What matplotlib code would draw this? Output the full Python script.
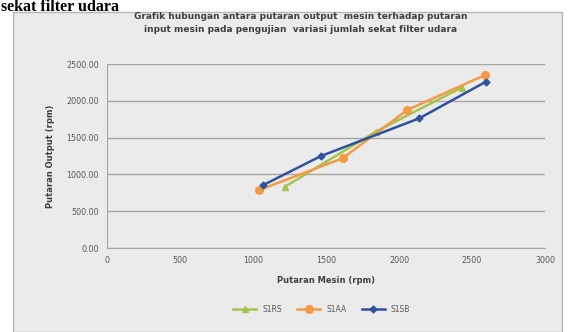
import matplotlib
matplotlib.use("Agg")
import matplotlib.pyplot as plt
from matplotlib.patches import Rectangle

# putaran mesin (input) vs putaran output, per variasi sekat
series_names = ["S1RS", "S1AA", "S1SB"]
x_s1rs = [1219, 1840, 2430]
y_s1rs = [833, 1580, 2180]
x_s1aa = [1043, 1614, 2057, 2589]
y_s1aa = [788, 1219, 1875, 2350]
x_s1sb = [1071, 1466, 2139, 2596]
y_s1sb = [856, 1250, 1762, 2260]

x_ticks = [0, 500, 1000, 1500, 2000, 2500, 3000]
y_ticks = [0, 500, 1000, 1500, 2000, 2500]

colors = ["#A5C44F", "#F39A45", "#2F529E"]
markers = ["^", "o", "D"]
msizes = [4, 5.5, 3.5]

fig = plt.figure(figsize=(5.73, 3.32), dpi=100)
fig.patch.set_facecolor("white")

# chart area frame, kept behind the axes
fig.patches.append(Rectangle((13 / 573, 0), 549 / 573, 320 / 332,
                             transform=fig.transFigure, facecolor="#EBEBEB",
                             edgecolor="#B5B5B5", linewidth=1.0, zorder=-5))

# tail of the heading above the chart
fig.text(0.002, 0.966, "sekat filter udara", family="Liberation Serif",
         fontweight="bold", fontsize=11.5, color="black", va="baseline")

fig.text(0.525, 0.930, "Grafik hubungan antara putaran output  mesin terhadap putaran\n"
         "input mesin pada pengujian  variasi jumlah sekat filter udara",
         ha="center", va="center", fontsize=6.5, color="#404040",
         fontweight="bold", linespacing=1.5)

ax = fig.add_axes([107 / 573, 84 / 332, 438 / 573, 184 / 332])
ax.patch.set_alpha(0)

for xs, ys, name, c, m, ms in zip([x_s1rs, x_s1aa, x_s1sb], [y_s1rs, y_s1aa, y_s1sb],
                                  series_names, colors, markers, msizes):
    ax.plot(xs, ys, color=c, marker=m, markersize=ms, linewidth=1.8, label=name)

ax.set_xlim(0, 3000)
ax.set_ylim(0, 2500)
ax.set_xticks(x_ticks)
ax.set_yticks(y_ticks)
ax.set_xticklabels([str(v) for v in x_ticks])
ax.set_yticklabels([f"{v:.2f}" for v in y_ticks])
ax.tick_params(length=0, labelsize=5.8, colors="#595959", pad=6)
ax.grid(axis="y", color="#A6A6A6", linewidth=1.0)
ax.set_axisbelow(True)
for side in ["top", "right"]:
    ax.spines[side].set_visible(False)
ax.spines["left"].set_color("#A6A6A6")
ax.spines["bottom"].set_color("#A6A6A6")

ax.set_xlabel("Putaran Mesin (rpm)", fontsize=6, color="#404040", fontweight="bold", labelpad=8)
ax.set_ylabel("Putaran Output (rpm)", fontsize=6, color="#404040", fontweight="bold", labelpad=8)

ax.legend(loc="upper center", bbox_to_anchor=(0.49, -0.27), ncol=3, frameon=False,
          fontsize=5.5, handlelength=3, columnspacing=2.0, labelcolor="#595959")

fig.savefig("out.png", dpi=100)
